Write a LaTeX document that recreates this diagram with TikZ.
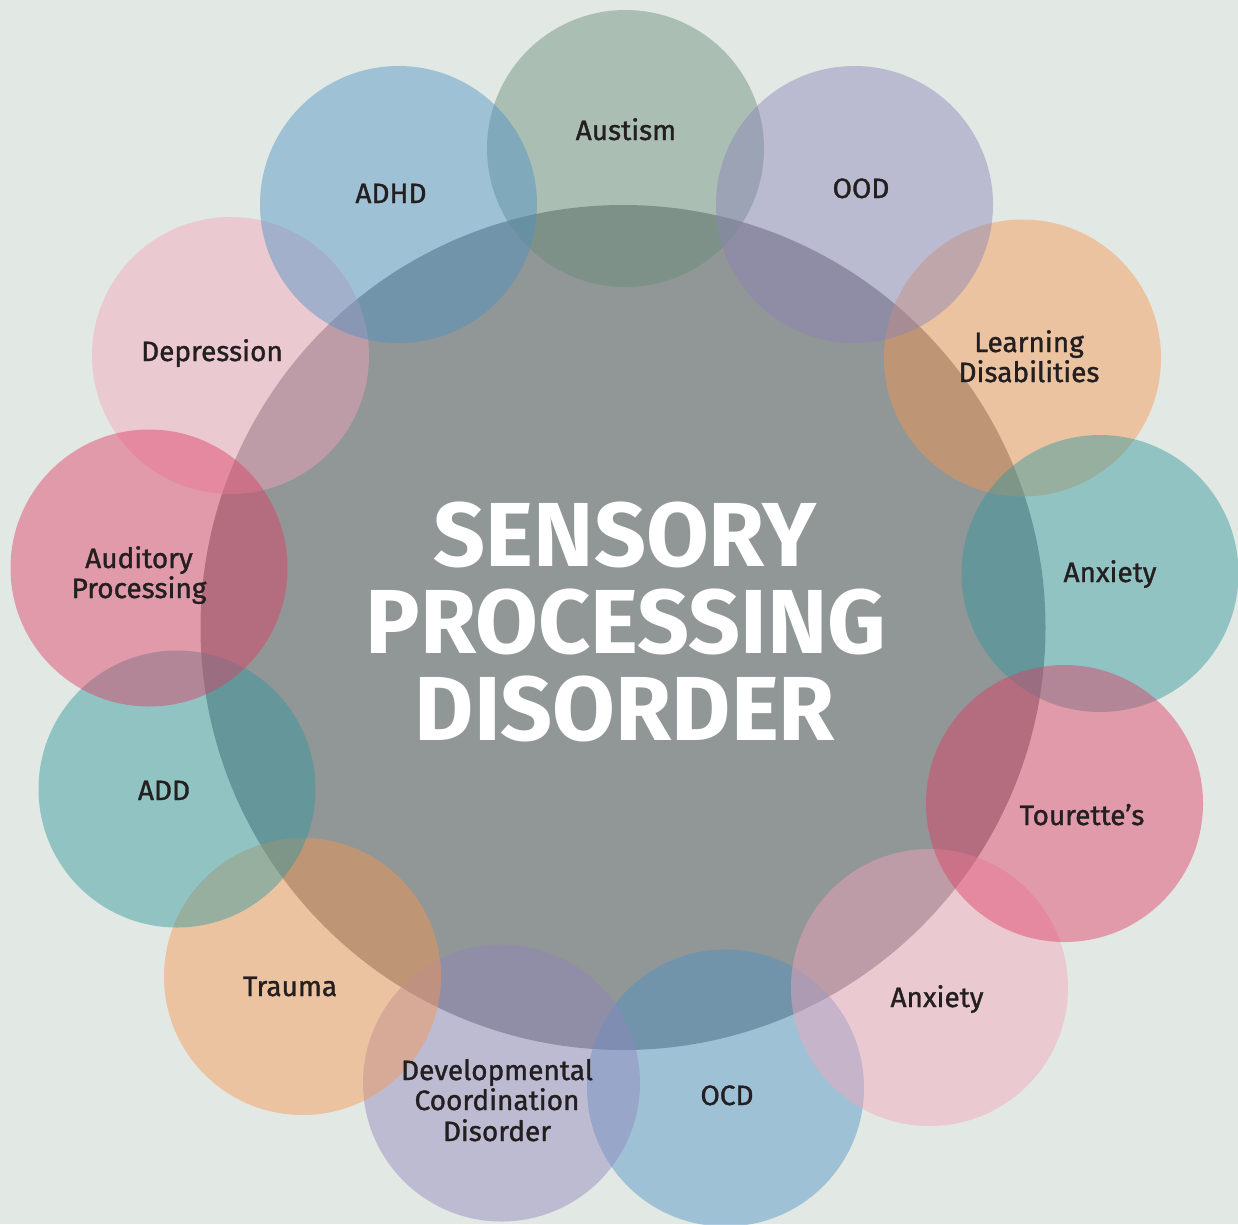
\documentclass[tikz,border=0pt]{standalone}
\usepackage{fontspec}
\setmainfont{Fira Sans}
\newfontfamily\tagfont[FakeBold=1.2]{Fira Sans}
% Palette
\definecolor{paper}{RGB}{226,232,228}
\definecolor{coregray}{RGB}{145,150,150}
\definecolor{ink}{RGB}{35,31,32}
\definecolor{sage}{RGB}{102,141,121}
\definecolor{lilac}{RGB}{139,132,184}
\definecolor{lilacb}{RGB}{144,134,188}
\definecolor{peach}{RGB}{246,150,81}
\definecolor{teal}{RGB}{48,152,157}
\definecolor{rose}{RGB}{222,61,99}
\definecolor{blush}{RGB}{244,165,188}
\definecolor{sky}{RGB}{78,147,197}
\begin{document}
\begin{tikzpicture}[x=1pt,y=-1pt,
  bubble/.style={circle, fill=#1, fill opacity=0.45, draw=none,
    minimum size=277pt, inner sep=0pt},
  core/.style={circle, fill=coregray, draw=none, minimum size=845pt, inner sep=0pt},
  lbl/.style={text=ink, font=\tagfont\fontsize{28}{30}\selectfont, anchor=base, inner sep=0pt},
  headline/.style={text=white, font=\fontsize{91}{87}\selectfont\bfseries, anchor=base, inner sep=0pt}]
% page
\fill[paper] (0,0) rectangle (1238,1224);
\useasboundingbox (0,0) rectangle (1238,1224);
% central disc
\node[core] (spd) at (623,627.5) {};
% surrounding discs, back to front
\node[bubble=sage]   (autism)   at (625.5,148.5) {};
\node[bubble=peach]  (learning) at (1022.5,358) {};
\node[bubble=blush]  (depr)     at (230.5,355.5) {};
\node[bubble=sky]    (ocd)      at (725.5,1088) {};
\node[bubble=sky]    (adhd)     at (398.5,204.5) {};
\node[bubble=lilac]  (ood)      at (854.5,204.5) {};
\node[bubble=teal]   (anxa)     at (1100,573.5) {};
\node[bubble=blush]  (anxb)     at (929.5,987.5) {};
\node[bubble=lilacb] (dcd)      at (501.5,1083) {};
\node[bubble=peach]  (trauma)   at (302.5,976.5) {};
\node[bubble=teal]   (add)      at (177,789) {};
\node[bubble=rose]   (audit)    at (149,568) {};
\node[bubble=rose]   (tour)     at (1064.5,803.5) {};
% headline
\node[headline] (h1) at (625,566) {SENSORY};
\node[headline] (h2) at (626,653) {PROCESSING};
\node[headline] (h3) at (625,740) {DISORDER};
% labels
\node[lbl] (t-autism) at (626,140) {Austism};
\node[lbl] (t-adhd)   at (391,203) {ADHD};
\node[lbl] (t-ood)    at (861,198) {OOD};
\node[lbl] (t-learn1) at (1029,352) {Learning};
\node[lbl] (t-learn2) at (1029,382) {Disabilities};
\node[lbl] (t-anxa)   at (1110,582) {Anxiety};
\node[lbl] (t-tour)   at (1082,825) {Tourette’s};
\node[lbl] (t-anxb)   at (937,1007) {Anxiety};
\node[lbl] (t-ocd)    at (727,1105) {OCD};
\node[lbl] (t-dcd1)   at (497,1080) {Developmental};
\node[lbl] (t-dcd2)   at (497,1110) {Coordination};
\node[lbl] (t-dcd3)   at (497,1141) {Disorder};
\node[lbl] (t-trauma) at (290,996) {Trauma};
\node[lbl] (t-add)    at (164,800) {ADD};
\node[lbl] (t-aud1)   at (139,568) {Auditory};
\node[lbl] (t-aud2)   at (139,598) {Processing};
\node[lbl] (t-depr)   at (212,361) {Depression};
\end{tikzpicture}
\end{document}
